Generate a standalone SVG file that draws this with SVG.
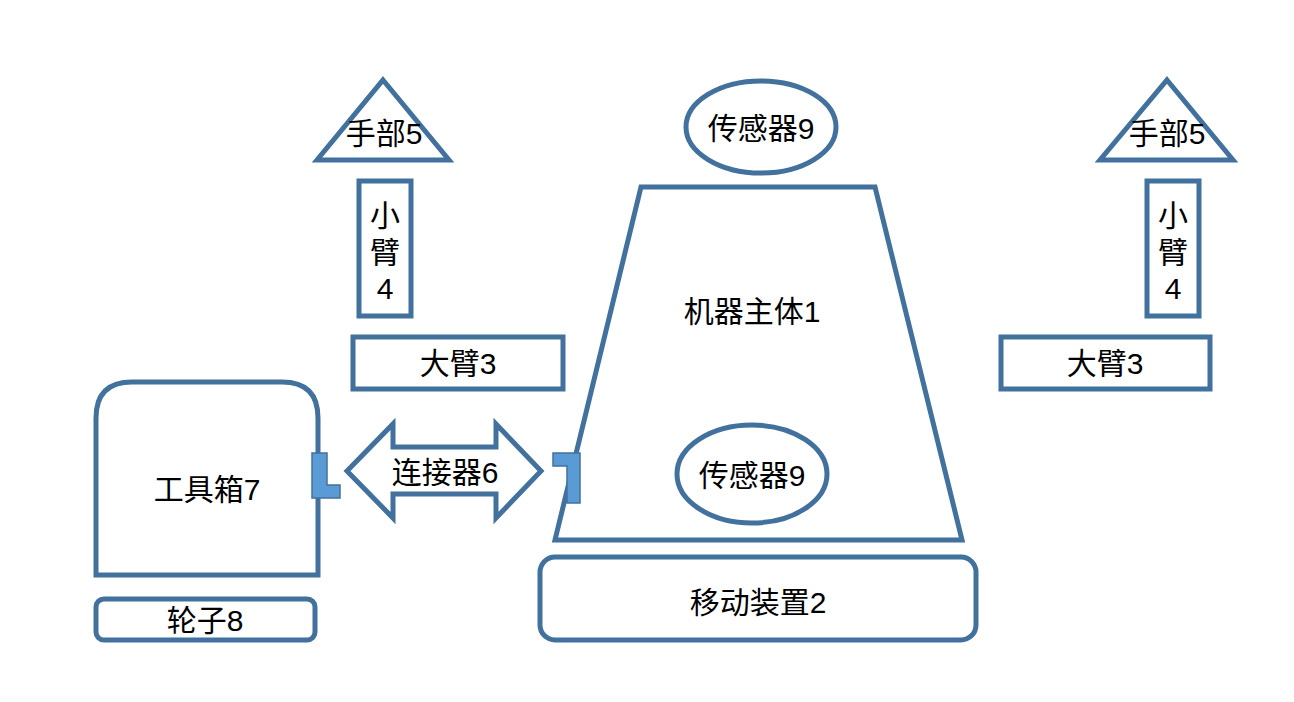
<svg xmlns="http://www.w3.org/2000/svg" width="1294" height="702" viewBox="0 0 1294 702">
<style>
.s{fill:#fff;stroke:#41719C;stroke-width:5;stroke-linejoin:miter}
.c{fill:#5B9BD5;stroke:#41719C;stroke-width:1.5}
.t{font-family:"Liberation Sans","Noto Sans CJK SC",sans-serif;font-size:30px;fill:#000;text-anchor:middle;dominant-baseline:central}
</style>
<rect width="1294" height="702" fill="#fff"/>
<g id="body">
<polygon class="s" points="641,187 875,187 962,540 555,540"/>
<text class="t" x="752" y="311">机器主体1</text>
</g>
<g id="sensor-top">
<ellipse class="s" cx="761" cy="127" rx="75" ry="46"/>
<text class="t" x="761" y="128">传感器9</text>
</g>
<g id="sensor-bottom">
<ellipse class="s" cx="752" cy="474" rx="75" ry="49"/>
<text class="t" x="752" y="475">传感器9</text>
</g>
<g id="mover">
<rect class="s" x="540" y="557" width="436" height="83" rx="15"/>
<text class="t" x="758" y="602">移动装置2</text>
</g>
<g id="toolbox">
<path class="s" d="M96,575 V418 Q96,382 132,382 H282 Q318,382 318,418 V575 Z"/>
<text class="t" x="207" y="489">工具箱7</text>
</g>
<g id="wheel">
<rect class="s" x="96" y="599" width="219" height="41" rx="8"/>
<text class="t" x="205" y="620">轮子8</text>
</g>
<g id="bigarm-left">
<rect class="s" x="353" y="337" width="210" height="52"/>
<text class="t" x="458" y="363">大臂3</text>
</g>
<g id="bigarm-right">
<rect class="s" x="1001" y="337" width="209" height="52"/>
<text class="t" x="1105" y="363">大臂3</text>
</g>
<g id="forearm-left">
<rect class="s" x="359" y="181" width="52" height="135"/>
<text class="t" x="385" y="215">小</text>
<text class="t" x="385" y="252">臂</text>
<text class="t" x="385" y="288">4</text>
</g>
<g id="forearm-right">
<rect class="s" x="1147" y="181" width="52" height="135"/>
<text class="t" x="1173" y="215">小</text>
<text class="t" x="1173" y="252">臂</text>
<text class="t" x="1173" y="288">4</text>
</g>
<g id="hand-left">
<polygon class="s" points="383,80 449,160 317,160"/>
<text class="t" x="384" y="133">手部5</text>
</g>
<g id="hand-right">
<polygon class="s" points="1167,80 1233,160 1100,160"/>
<text class="t" x="1167" y="133">手部5</text>
</g>
<g id="connector">
<polygon class="s" points="347,471 393,424 393,447 496,447 496,424 541,471 496,518 496,494 393,494 393,518"/>
<text class="t" x="445" y="472">连接器6</text>
</g>
<g id="connectors">
<polygon class="c" points="312,453 327,453 327,485 340,485 340,498 312,498"/>
<polygon class="c" points="553,453 580,453 580,503 567,503 567,466 553,466"/>
</g>
</svg>
